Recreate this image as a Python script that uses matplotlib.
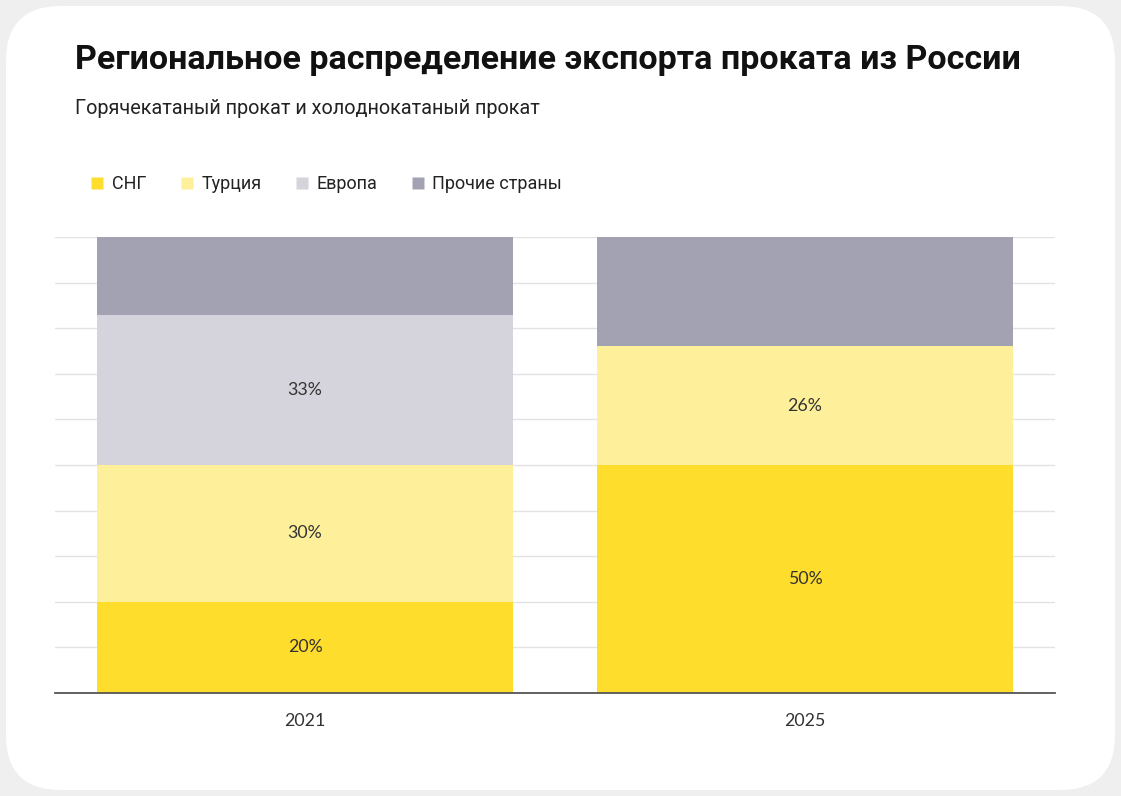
import matplotlib
matplotlib.use("Agg")
import matplotlib.pyplot as plt
from matplotlib.patches import FancyBboxPatch
from matplotlib.lines import Line2D
from matplotlib.transforms import IdentityTransform
import numpy as np

years = ["2021", "2025"]
series_names = ["СНГ", "Турция", "Европа", "Прочие страны"]
cis = [20, 50]
turkey = [30, 26]
europe = [33, 0]
others = [17, 24]
labels_cis = ["20%", "50%"]
labels_turkey = ["30%", "26%"]
labels_europe = ["33%", ""]
labels_others = ["", ""]

colors = ["#FFDD2D", "#FEF09B", "#D5D3DC", "#A3A2B3"]

W, H = 1121, 796
fig = plt.figure(figsize=(W / 100, H / 100), dpi=100)
fig.patch.set_facecolor("#EFEFEF")

card = FancyBboxPatch((6, 6), 1109, 784, boxstyle="round,pad=0,rounding_size=55",
                      transform=IdentityTransform(), facecolor="white", edgecolor="none", zorder=-10)
fig.patches.append(card)

ax = fig.add_axes([55 / W, (H - 693) / H, 1000 / W, 456 / H])
ax.set_facecolor("none")
ax.set_zorder(2)

x = np.arange(len(years))
width = 0.832
data = [cis, turkey, europe, others]
labs = [labels_cis, labels_turkey, labels_europe, labels_others]
bottom = np.zeros(len(years))
for vals, lab, col, name in zip(data, labs, colors, series_names):
    vals = np.array(vals, dtype=float)
    ax.bar(x, vals, width, bottom=bottom, color=col, label=name, zorder=2, linewidth=0)
    for xi, v, b, t in zip(x, vals, bottom, lab):
        if t:
            ax.text(xi, b + v / 2, t, ha="center", va="center", fontsize=12.8,
                    color="#333333", family="Lato", zorder=3)
    bottom += vals

ax.set_xlim(-0.5, 1.5)
ax.set_ylim(0, 100)
ax.set_yticks(np.arange(0, 101, 10))
ax.yaxis.grid(True, color="#E3E3E3", linewidth=1, zorder=0)
ax.set_axisbelow(True)
ax.tick_params(axis="y", left=False, labelleft=False)
ax.tick_params(axis="x", bottom=False, pad=11)
ax.set_xticks(x)
ax.set_xticklabels(years, fontsize=12.8, color="#333333", family="Lato")
for s in ["top", "right", "left"]:
    ax.spines[s].set_visible(False)
ax.spines["bottom"].set_color("#555555")
ax.spines["bottom"].set_linewidth(1.3)
ax.spines["bottom"].set_zorder(4)

fig.text(75 / W, 1 - 60 / H, "Региональное распределение экспорта проката из России",
         fontsize=24.5, fontweight="bold", family="Roboto", color="#111111", va="center", ha="left")
fig.text(75 / W, 1 - 109 / H, "Горячекатаный прокат и холоднокатаный прокат",
         fontsize=14.3, family="Roboto", color="#222222", va="center", ha="left")

handles = [Line2D([0], [0], marker="s", linestyle="none", markersize=8,
                  markerfacecolor=c, markeredgecolor="none") for c in colors]
fig.legend(handles, series_names, loc="center left", bbox_to_anchor=(92 / W, 1 - 184 / H),
           ncol=4, frameon=False, prop={"family": "Roboto", "size": 13},
           handlelength=0.6, handletextpad=0.5, columnspacing=1.95, labelcolor="#222222",
           borderaxespad=0, borderpad=0)

fig.savefig("out.png", dpi=100, facecolor=fig.get_facecolor())
